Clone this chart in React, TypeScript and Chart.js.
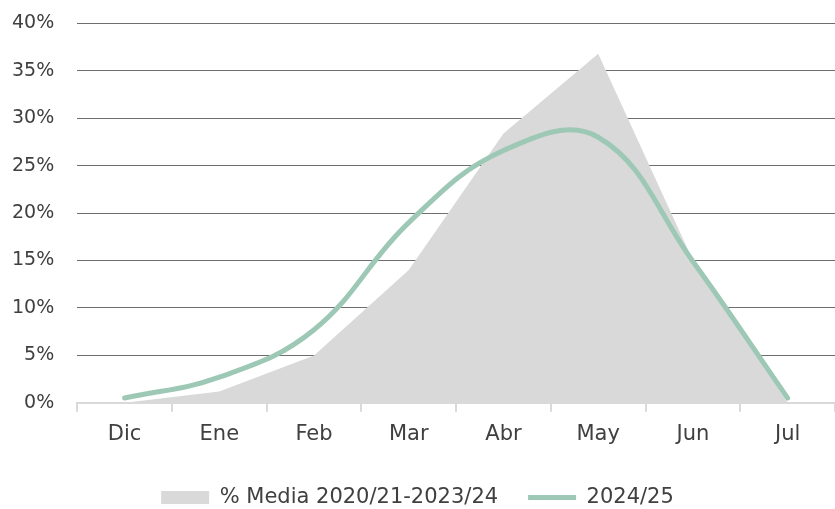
import React, { useEffect, useRef } from "react";
import { Chart, registerables } from "chart.js";

Chart.register(...registerables);

const categories = ["Dic", "Ene", "Feb", "Mar", "Abr", "May", "Jun", "Jul"];
const mediaValues = [0, 0.012, 0.05, 0.14, 0.284, 0.368, 0.15, 0];
const season2425 = [0.005, 0.027, 0.077, 0.19, 0.266, 0.28, 0.149, 0.005];
const yTicks = [0, 0.05, 0.1, 0.15, 0.2, 0.25, 0.3, 0.35, 0.4];

const FONT = "'DejaVu Sans', sans-serif";
const TEXT = "#404040";

export default function App() {
  const ref = useRef<HTMLCanvasElement | null>(null);
  useEffect(() => {
    if (!ref.current) return;
    const chart = new Chart(ref.current, {
      type: "line",
      data: {
        labels: categories,
        datasets: [
          {
            label: "% Media 2020/21-2023/24",
            data: mediaValues,
            fill: "origin",
            backgroundColor: "#d9d9d9",
            borderColor: "#d9d9d9",
            borderWidth: 0,
            pointRadius: 0,
            tension: 0,
            pointStyle: "rect",
            order: 2,
          },
          {
            label: "2024/25",
            data: season2425,
            fill: false,
            borderColor: "#9dc8b6",
            backgroundColor: "#9dc8b6",
            borderWidth: 5,
            pointRadius: 0,
            tension: 0.4,
            borderCapStyle: "round",
            pointStyle: "line",
            order: 1,
          },
        ],
      },
      options: {
        animation: false,
        responsive: true,
        maintainAspectRatio: false,
        layout: { padding: { top: 2, right: 0, left: 0, bottom: -9 } },
        plugins: {
          tooltip: { enabled: false },
          legend: {
            position: "bottom",
            labels: {
              usePointStyle: true,
              pointStyleWidth: 48,
              boxHeight: 13,
              padding: 30,
              color: TEXT,
              font: { family: FONT, size: 21 },
              sort: (a, b) => a.datasetIndex - b.datasetIndex,
              generateLabels: (c) => {
                const items = Chart.defaults.plugins.legend.labels.generateLabels(c);
                return items.map((it) => {
                  if (it.datasetIndex === 0) {
                    return { ...it, pointStyle: "rect", fillStyle: "#d9d9d9", strokeStyle: "#d9d9d9", lineWidth: 0 };
                  }
                  return { ...it, pointStyle: "line", strokeStyle: "#9dc8b6", lineWidth: 5 };
                });
              },
            },
          },
        },
        scales: {
          x: {
            offset: true,
            grid: {
              display: true,
              offset: true,
              drawOnChartArea: false,
              drawTicks: true,
              tickLength: 9,
              color: "#d9d9d9",
              lineWidth: 2,
            },
            border: { display: true, color: "#d9d9d9", width: 2 },
            ticks: { color: TEXT, font: { family: FONT, size: 21 }, padding: 10 },
          },
          y: {
            min: 0,
            max: 0.4,
            afterBuildTicks: (axis) => {
              axis.ticks = yTicks.map((v) => ({ value: v }));
            },
            grid: {
              color: "#6e6e6e",
              lineWidth: 1,
              drawTicks: true,
              tickLength: 11,
              tickColor: "rgba(0,0,0,0)",
            },
            border: { display: false },
            ticks: {
              color: TEXT,
              font: { family: FONT, size: 19 },
              padding: 12,
              callback: (v) => `${Math.round(Number(v) * 100)}%`,
            },
          },
        },
      },
    });
    return () => chart.destroy();
  }, []);
  return (
    <div style={{ position: "absolute", left: 0, top: 0, width: 835, height: 509 }}>
      <canvas ref={ref} />
    </div>
  );
}
